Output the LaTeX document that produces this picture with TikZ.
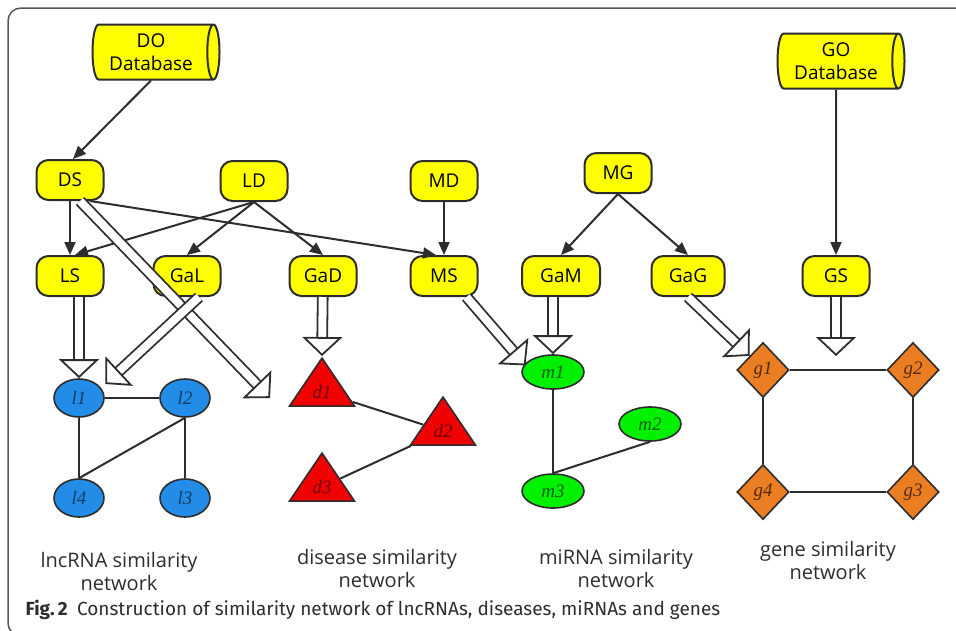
\documentclass[tikz,border=0pt]{standalone}
\usepackage{fontspec}
\setmainfont{Open Sans}
\newfontfamily\capfont{Fira Sans}
\newfontfamily\netfont{Liberation Serif}
\usepackage{tikz}
\usetikzlibrary{shapes.geometric}
\usetikzlibrary{arrows.meta}
\definecolor{myyellow}{RGB}{255, 255, 0}
\definecolor{myblue}{RGB}{35, 140, 230}
\definecolor{myred}{RGB}{240, 0, 0}
\definecolor{mygreen}{RGB}{0, 240, 0}
\definecolor{myorange}{RGB}{235, 125, 35}
\definecolor{myline}{RGB}{45, 45, 45}

\begin{document}
\begin{tikzpicture}[
            x=1pt, y=-1pt,
            font=\fontsize{19}{21}\selectfont,
            proc/.style={
                rectangle,
                rounded corners=12pt,
                draw=myline,
                fill=myyellow,
                line width=2pt,
                minimum width=67pt,
                minimum height=40pt,
                inner sep=2pt
            },
            db/.style={
                cylinder,
                draw=myline,
                fill=myyellow,
                line width=2pt,
                aspect=0.28,
                minimum width=55pt,
                minimum height=127pt,
                align=center,
                font=\fontsize{19}{23}\selectfont
            },
            lnode/.style={ellipse, draw=myline, line width=1.6pt, fill=myblue,
                minimum width=50pt, minimum height=38pt, inner sep=0pt,
                font=\netfont\itshape\fontsize{19}{20}\selectfont, text=myblue!45!black},
            mnode/.style={ellipse, draw=myline, line width=1.6pt, fill=mygreen,
                minimum width=62pt, minimum height=34pt, inner sep=0pt,
                font=\netfont\itshape\fontsize{19}{20}\selectfont, text=mygreen!40!black},
            dnode/.style={isosceles triangle, isosceles triangle stretches,
                shape border rotate=90, draw=myline, line width=1.6pt, fill=myred,
                minimum width=65pt, minimum height=48pt, inner sep=0pt,
                font=\netfont\itshape\fontsize{19}{20}\selectfont, text=myred!45!black},
            gnode/.style={diamond, draw=myline, line width=1.6pt, fill=myorange,
                minimum width=52pt, minimum height=55pt, inner sep=0pt,
                font=\netfont\itshape\fontsize{19}{20}\selectfont, text=myorange!35!black},
            arr/.style={draw=myline, line width=2pt, -{Triangle[length=13pt, width=11pt]}},
            hol/.style={draw=myline, line width=1.8pt, double=white, double distance=8pt,
                -{Triangle[open, fill=white, length=19pt, width=40pt, line width=1.8pt]}},
            edge/.style={draw=myline, line width=2pt},
            title/.style={align=center, text=myline, font=\fontsize{20}{23}\selectfont}
        ]
            \useasboundingbox (0,0) rectangle (956,630);

            % Frame
            \draw[myline!80, line width=1.5pt, rounded corners=13pt] (970,8) -- (8,8) -- (8,636) -- (40,636);

            % Databases
            \node[db] (DO) at (151,52) {DO\\Database};
            \node[db] (GO) at (836,61) {GO\\Database};

            % Similarity nodes
            \node[proc] (DS) at (70,180) {DS};
            \node[proc] (LD) at (254,181) {LD};
            \node[proc] (MD) at (444,181) {MD};
            \node[proc] (MG) at (618,173) {MG};
            \node[proc] (LS) at (70,276) {LS};
            \node[proc] (GaL) at (187,276) {GaL};
            \node[proc] (GaD) at (323,276) {GaD};
            \node[proc] (MS) at (444,276) {MS};
            \node[proc, minimum width=78pt] (GaM) at (561,276) {GaM};
            \node[proc, minimum width=73pt] (GaG) at (688,276) {GaG};
            \node[proc] (GS) at (836,276) {GS};

            % lncRNA network
            \node[lnode] (l1) at (79,398) {l1};
            \node[lnode] (l2) at (185,398) {l2};
            \node[lnode] (l3) at (185,498) {l3};
            \node[lnode] (l4) at (79,498) {l4};

            % disease network
            \node[dnode] (d1) at (322,392) {d1};
            \node[dnode] (d2) at (443,431) {d2};
            \node[dnode] (d3) at (322,487) {d3};

            % miRNA network
            \node[mnode] (m1) at (553,372) {m1};
            \node[mnode] (m2) at (650,424) {m2};
            \node[mnode] (m3) at (553,491) {m3};

            % gene network
            \node[gnode] (g1) at (763,370) {g1};
            \node[gnode] (g2) at (913,370) {g2};
            \node[gnode] (g3) at (913,492) {g3};
            \node[gnode] (g4) at (763,492) {g4};

            % Titles
            \node[title] (lt) at (119,571) {lncRNA similarity\\network};
            \node[title] (dt) at (377,568) {disease similarity\\network};
            \node[title] (mt) at (616,568) {miRNA similarity\\network};
            \node[title] (gt) at (828,560) {gene similarity\\network};
            \node[anchor=west, text=myline, font=\capfont\fontsize{19}{21}\selectfont] (cap) at (22,610)
                {\textbf{Fig.\,2}\enspace Construction of similarity network of lncRNAs, diseases, miRNAs and genes};

            % Arrows
            \draw[arr] (DO.south) -- ([xshift=3pt]DS.north);
            \draw[arr] (DS) -- (LS);
            \draw[arr] ([xshift=20pt]DS.south) -- ([xshift=-8pt]MS.north);
            \draw[arr] (LD.south) -- ([xshift=5pt]LS.north);
            \draw[arr] (LD.south) -- (GaL.north);
            \draw[arr] (LD.south) -- (GaD.north);
            \draw[arr] (MD) -- (MS);
            \draw[arr] (MG.south) -- (GaM.north);
            \draw[arr] (MG.south) -- (GaG.north);
            \draw[arr] (GO.south) -- (GS.north);

            % Network edges
            \draw[edge] (l1) -- (l2);
            \draw[edge] (l1) -- (l4);
            \draw[edge] (l2) -- (l3);
            \draw[edge] (l2.south) -- (l4.north);
            \draw[edge] (d1) -- (d2);
            \draw[edge] (d3) -- (d2);
            \draw[edge] (m1) -- (m3);
            \draw[edge] (m3.north) -- (m2.south);
            \draw[edge] (g1) -- (g2);
            \draw[edge] (g2) -- (g3);
            \draw[edge] (g3) -- (g4);
            \draw[edge] (g4) -- (g1);

            % Hollow arrows
            \coordinate (dsend) at (270,398);
            \coordinate (gsend) at (836,356);
            \draw[hol] (LS.south -| l1.north) -- (l1.north);
            \draw[hol] ([xshift=10pt]DS.south) -- (dsend);
            \draw[hol] ([xshift=12pt]GaL.south) -- ([xshift=8pt]l1.north east);
            \draw[hol] (GaD) -- (d1.apex);
            \draw[hol] ([xshift=-12pt]MS.south east) -- ([xshift=-5pt, yshift=-6pt]m1.north west);
            \draw[hol] (GaM.south -| m1.north) -- (m1.north);
            \draw[hol] (GaG.south) -- (g1.north west);
            \draw[hol] (GS) -- (gsend);
        \end{tikzpicture}
\end{document}
